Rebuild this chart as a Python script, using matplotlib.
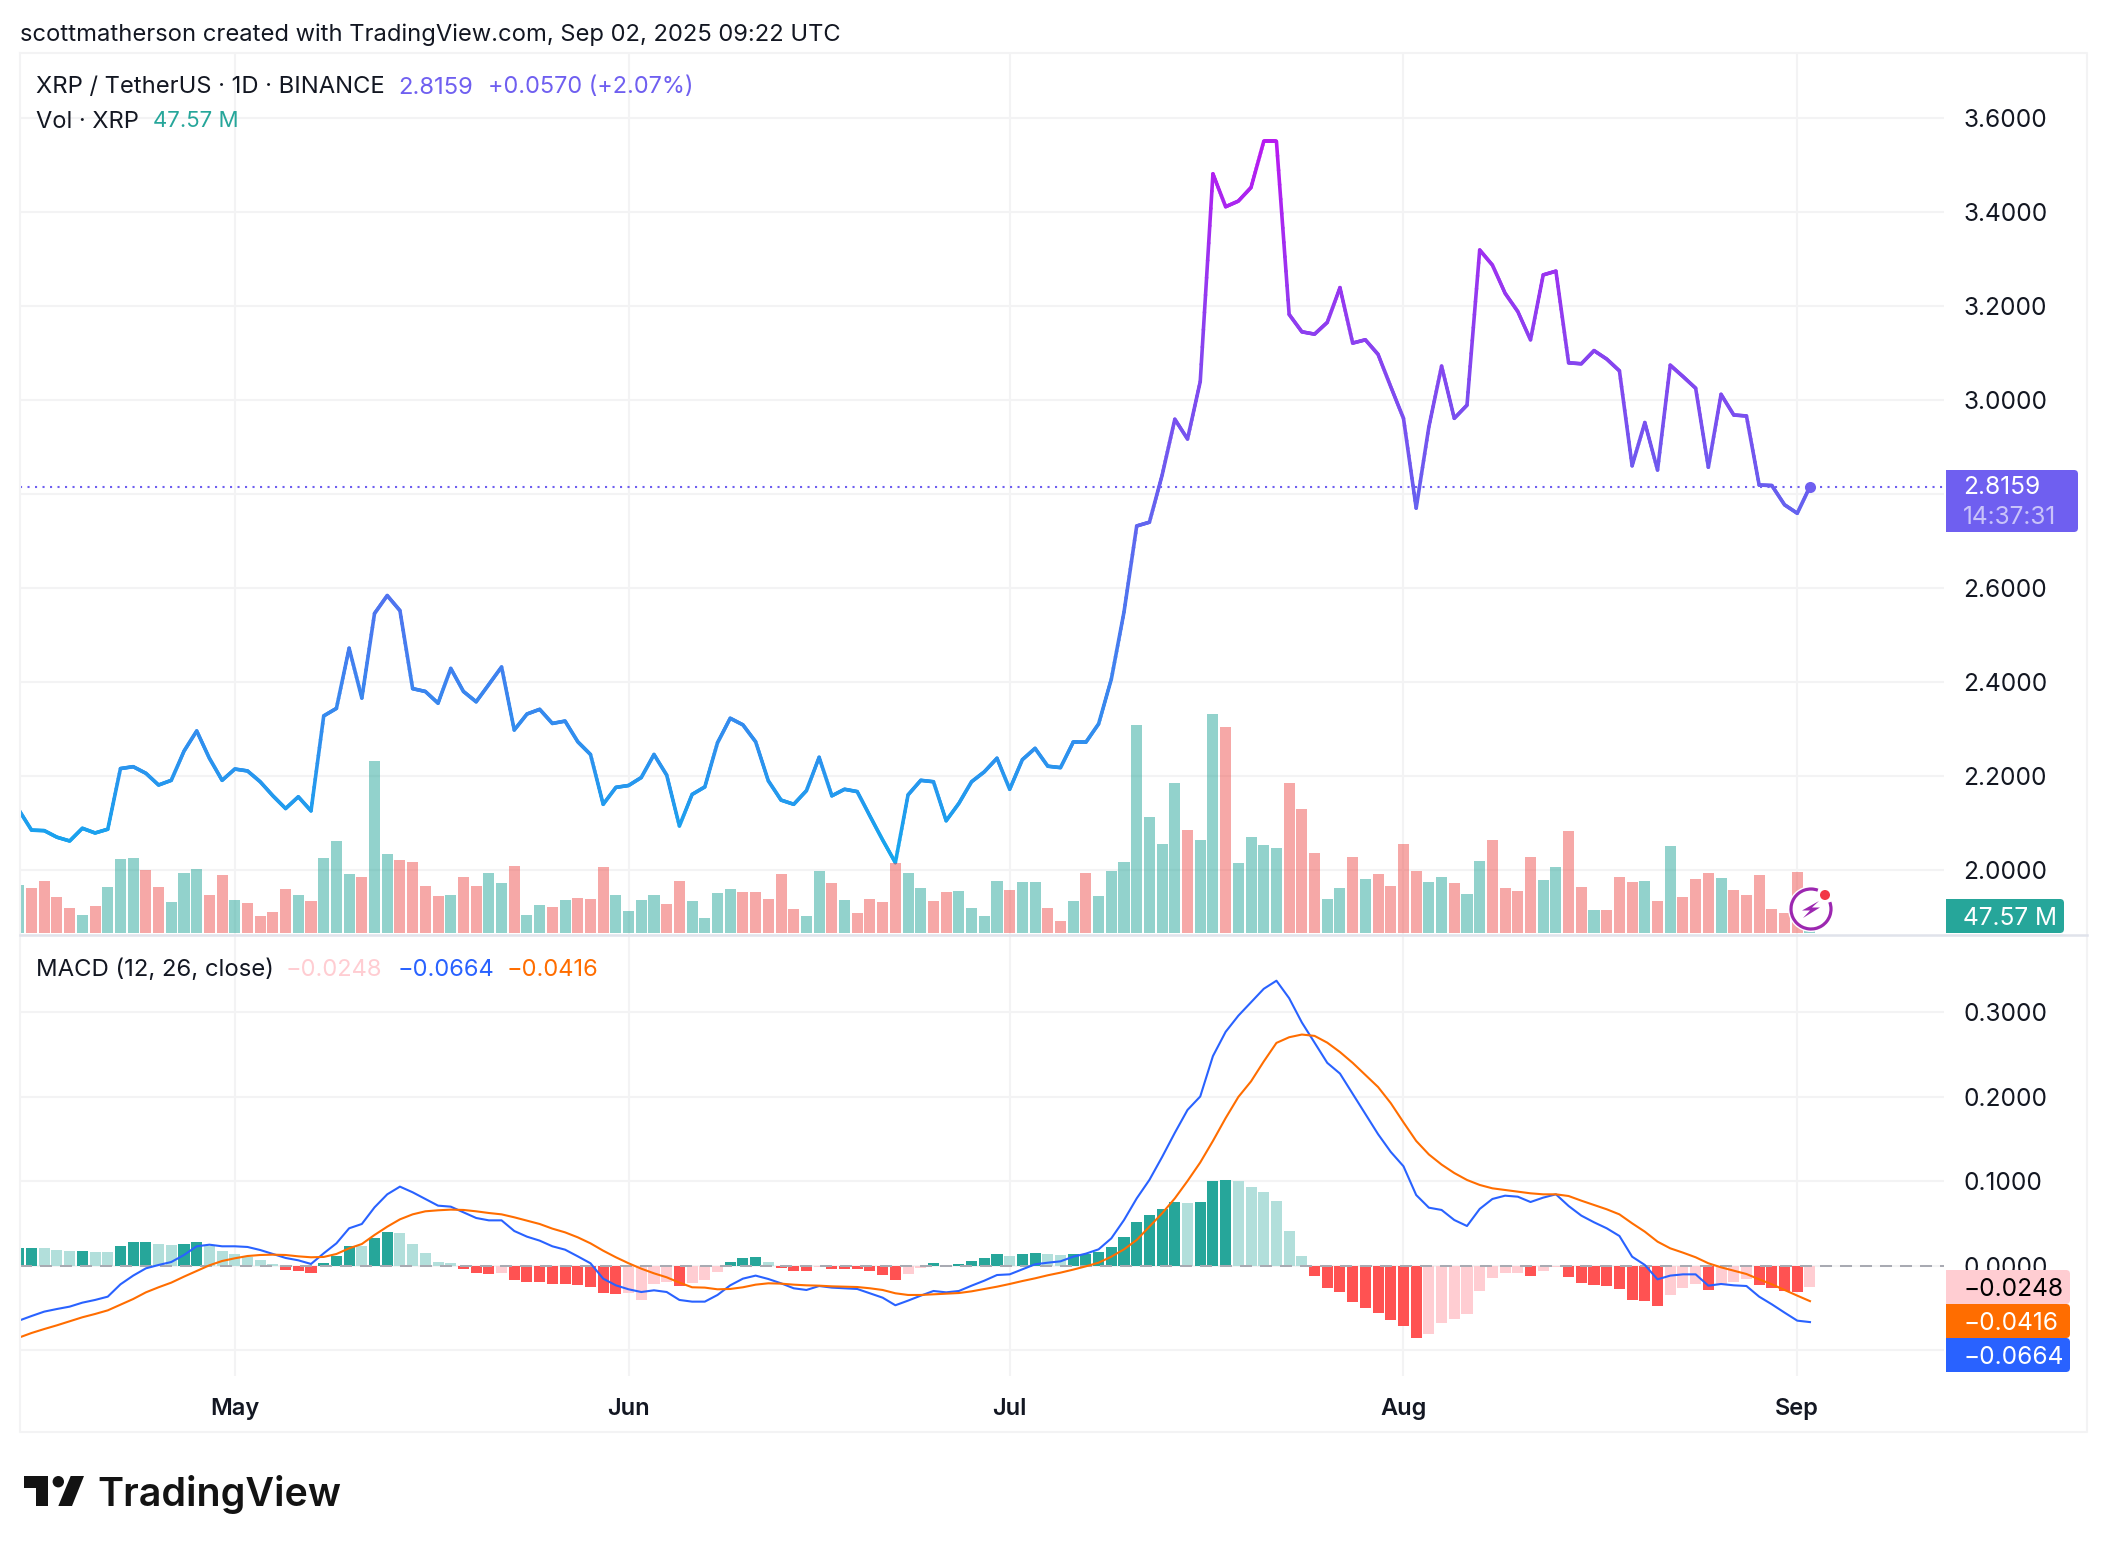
import matplotlib
matplotlib.use('Agg')
import matplotlib.pyplot as plt
from matplotlib.collections import LineCollection
from matplotlib.colors import LinearSegmentedColormap
from matplotlib.patches import Circle, Arc, Polygon, Rectangle, FancyBboxPatch
import numpy as np

plt.rcParams['font.family'] = ['Inter', 'DejaVu Sans']

# days counted from May 1 2025, first bar is Apr 14, last is Sep 2
days = np.arange(-17, 125)
month_days = [0, 31, 61, 92, 123]
month_names = ['May', 'Jun', 'Jul', 'Aug', 'Sep']

close = [2.128, 2.085, 2.084, 2.070, 2.062, 2.089, 2.079, 2.087, 2.216, 2.220, 2.206, 2.181, 2.191, 2.253, 2.296, 2.238, 2.191,
         2.215, 2.211, 2.188, 2.158, 2.131, 2.156, 2.126, 2.328, 2.344, 2.472, 2.366, 2.546, 2.584, 2.552, 2.386, 2.380,
         2.355, 2.429, 2.380, 2.358, 2.395, 2.432, 2.298, 2.332, 2.342, 2.312, 2.317, 2.273, 2.246, 2.140, 2.176, 2.180,
         2.197, 2.246, 2.202, 2.094, 2.161, 2.177, 2.271, 2.323, 2.309, 2.273, 2.190, 2.149, 2.140, 2.169, 2.240, 2.158,
         2.172, 2.167, 2.115, 2.064, 2.016, 2.160, 2.191, 2.188, 2.105, 2.142, 2.188, 2.209, 2.238, 2.172, 2.235, 2.259,
         2.221, 2.218, 2.272, 2.272, 2.311, 2.406, 2.549, 2.732, 2.740, 2.840, 2.959, 2.917, 3.039, 3.481, 3.411, 3.423,
         3.452, 3.550, 3.550, 3.182, 3.145, 3.140, 3.165, 3.239, 3.121, 3.128, 3.097, 3.028, 2.961, 2.770, 2.943, 3.072,
         2.961, 2.989, 3.319, 3.287, 3.227, 3.188, 3.128, 3.266, 3.274, 3.079, 3.077, 3.105, 3.087, 3.062, 2.860, 2.952,
         2.851, 3.074, 3.050, 3.025, 2.857, 3.012, 2.968, 2.966, 2.819, 2.818, 2.777, 2.759, 2.8159]

# volume in millions
volume = [159, 149, 172, 119, 82, 59, 89, 152, 246, 249, 209, 152, 102, 199, 212, 126, 192,
          109, 99, 56, 69, 146, 126, 106, 249, 306, 196, 186, 572, 262, 242, 236, 156, 122, 126, 186, 156, 199, 166, 222,
          59, 92, 86, 109, 116, 112, 219, 126, 72, 109, 126, 96, 172, 106,
          49, 132, 146, 136, 136, 112, 196, 79, 56, 206, 166, 109, 66, 112, 102, 232, 199, 149, 106, 136, 139, 82, 56,
          172, 142, 169, 169, 82, 39, 106, 199, 122, 206, 236, 692, 386, 296, 499, 342, 309, 729, 686, 232, 319, 292, 282,
          499, 412, 266, 112, 149, 252, 179, 196, 156,
          296, 206, 169, 186, 166, 129, 239, 309, 149, 139, 252, 176, 219, 339, 152, 76, 76, 186, 169, 172, 106, 289, 119,
          179, 199, 182, 142, 126, 192, 79, 66, 202, 47.57]
vol_up = [1, 0, 0, 0, 0, 1, 0, 1, 1, 1, 0, 0, 1, 1, 1, 0, 0,
          1, 0, 0, 0, 0, 1, 0, 1, 1, 1, 0, 1, 1, 0, 0, 0, 0, 1, 0, 0, 1, 1, 0, 1, 1, 0, 1, 0, 0, 0, 1, 1, 1, 1, 0, 0, 1,
          1, 1, 1, 0, 0, 0, 0, 0, 1, 1, 0, 1, 0, 0, 0, 0, 1, 1, 0, 0, 1, 1, 1, 1, 0, 1, 1, 0, 0, 1, 0, 1, 1, 1, 1, 1, 1, 1,
          0, 1, 1, 0, 1, 1, 1, 1, 0, 0, 0, 1, 1, 0, 1, 0, 0, 0, 0, 1, 1, 0, 1, 1, 0, 0, 0, 0, 1, 1, 0, 0, 1, 0, 0, 0, 1, 0,
          1, 0, 0, 0, 1, 0, 0, 0, 0, 0, 0, 1]

hist = [.0217, .0217, .0217, .0189, .0178, .0178, .0166, .0166, .0237, .0284, .0284, .026, .0249, .026, .0284, .0237, .0178,
        .0142, .0107, .0071, .0024, -.0047, -.0059, -.0083, .0036, .0118, .0237, .0237, .0331, .0402, .0391, .026, .0154,
        .0047, .0036, -.0036, -.0083, -.0095, -.0083, -.0166, -.0189, -.0189, -.0213, -.0213, -.0225, -.0249, -.032, -.0331,
        -.032, -.0402, -.0213, -.0189, -.0237, -.0201,
        -.0166, -.0071, .0047, .0095, .0107, .0047, -.0024, -.0059, -.0059, -.0012, -.0036, -.0036, -.0036, -.0059, -.0107,
        -.0166, -.0095, -.0024, .0036, .0012, .0024, .0059, .0095, .0142, .0118, .0142, .0154, .0142, .013, .0142, .0142,
        .0166, .0225, .0343, .0521, .0604, .0675, .0757, .0746, .0757, .1006, .1018, .1006, .0935, .0876, .0769, .0414, .0118,
        -.0118, -.026, -.0308, -.0426, -.0497, -.0556, -.0639,
        -.071, -.0852, -.0805, -.0675, -.0627, -.0568, -.0296, -.0142, -.0083, -.0083, -.0118, -.0059, -.0012, -.013, -.0201,
        -.0225, -.0237, -.0272, -.0402, -.0414, -.0473, -.0343, -.026, -.0213, -.0284, -.0213, -.0189, -.0154, -.0225, -.026,
        -.0296, -.0308, -.0248]
hist_strong = [1, 1, 0, 0, 0, 1, 0, 0, 1, 1, 1, 0, 0, 1, 1, 0, 0,
               0, 0, 0, 0, 1, 1, 1, 1, 1, 1, 0, 1, 1, 0, 0, 0, 0, 0, 1, 1, 1, 0, 1, 1, 1, 1, 1, 1, 1, 1, 1, 0, 0, 0, 0, 1, 0,
               0, 0, 1, 1, 1, 0, 1, 1, 1, 0, 1, 1, 1, 1, 1, 1, 0, 0, 1, 0, 1, 1, 1, 1, 0, 1, 1, 0, 0, 1, 1, 1, 1, 1, 1, 1, 1, 1,
               0, 1, 1, 1, 0, 0, 0, 0, 0, 0, 1, 1, 1, 1, 1, 1, 1, 1, 1, 0, 0, 0, 0, 0, 0, 0, 0, 1, 0, 0, 1, 1, 1, 1, 1, 1, 1, 1,
               0, 0, 0, 1, 0, 0, 0, 1, 1, 1, 1, 0]

macd = [-.0647, -.0592, -.054, -.0509, -.0481, -.0434, -.0402, -.0363, -.0217, -.0114, -.0028, .0012, .0047, .013, .0233, .0252, .0233,
        .0233, .0225, .0189, .0142, .0095, .0067, .0024, .015, .0268, .0446, .0497, .0694, .0848, .0939, .0872, .0793,
        .0714, .0702, .0635, .0568, .054, .054, .0414, .0347, .03, .0233, .0193, .0114, .0032, -.015, -.0229, -.0276,
        -.0308, -.0288, -.0308, -.0402, -.0422,
        -.0422, -.0343, -.0229, -.015, -.0114, -.0154, -.0205, -.0264, -.0284, -.0237, -.0256, -.0264, -.0272, -.0323, -.0375,
        -.0465, -.041, -.0351, -.0296, -.0312, -.0296, -.0233, -.0174, -.0107, -.0099, -.0039, .002, .0039, .0055, .011,
        .0146, .0197, .0327, .0544, .08, .1019, .129, .1576, .1847, .2006, .2484, .2771, .2962, .3121, .328, .3376, .3169,
        .2882, .2643, .2404, .2277, .2038, .1799, .156, .135,
        .118, .084, .069, .0663, .0544, .0473, .0675, .0793, .0832, .082, .0757, .0809, .0848, .071, .0596, .0517, .0446,
        .0355, .011, .0012, -.0158, -.0114, -.0099, -.0099, -.0233, -.0213, -.0229, -.0237, -.0363, -.0454, -.0552, -.0647, -.0664]

signal = [-.0848, -.0793, -.0746, -.0702, -.0655, -.0607, -.0568, -.0525, -.0458, -.0391, -.0312, -.0252, -.0197, -.0126, -.0059, .0008, .0059,
          .0091, .0118, .013, .0134, .013, .0114, .0103, .0107, .0142, .0209, .026, .0367, .0465, .0552, .0611, .0647,
          .0659, .0667, .0663, .0647, .0627, .0611, .0576, .0536, .0497, .0442, .0398, .0339, .0268, .0181, .0103, .0032,
          -.0032, -.0087, -.0134, -.0197, -.0252,
          -.0256, -.0276, -.0272, -.0252, -.0221, -.0205, -.0209, -.0221, -.0229, -.0233, -.0241, -.0245, -.0249, -.0264, -.0284,
          -.0323, -.0343, -.0343, -.0335, -.0327, -.032, -.03, -.0272, -.0245, -.0213, -.0178, -.0146, -.011, -.0079, -.0043,
          -.0004, .0039, .011, .0197, .0308, .0465, .0623, .08, .1006, .1225, .148, .175, .2, .2185, .242, .264, .2707,
          .2739, .2723, .2643, .2532, .2404, .2261, .2118, .1927,
          .17, .148, .132, .12, .11, .1018, .0959, .0919, .0899, .088, .086, .0848, .0848, .0828, .0773, .0722, .0671, .0611,
          .0505, .0406, .0288, .0209, .0158, .0103, .0032, -.0016, -.0055, -.0095, -.0158, -.0217, -.0284, -.0351, -.0416]

price_ticks = [2.0, 2.2, 2.4, 2.6, 2.8, 3.0, 3.2, 3.4, 3.6]
# 2.8000 sits behind the last price tag in the reference
price_labels = ['2.0000', '2.2000', '2.4000', '2.6000', '', '3.0000', '3.2000', '3.4000', '3.6000']
macd_ticks = [-0.1, 0.0, 0.1, 0.2, 0.3]
macd_labels = ['', '0.0000', '0.1000', '0.2000', '0.3000']

W, H = 2108, 1552
TEAL = '#26a69a'
RED = '#ef5350'
PURPLE = '#6f5ff0'
GRID = '#f3f3f4'
INK = '#131722'
TICK_SIZE = 17.6


def pane(left, top, right, bottom):
    return fig.add_axes([left / W, 1 - bottom / H, (right - left) / W, (bottom - top) / H])


fig = plt.figure(figsize=(W / 100, H / 100), dpi=100, facecolor='white')

day_left = (20 - 234.8) / 12.703
day_right = (1944 - 234.8) / 12.703

# price pane
ax = pane(20, 53, 1944, 935)
ax.set_xlim(day_left, day_right)
ax.set_ylim(1.862, 3.738)
ax.set_xticks(month_days)
ax.set_yticks(price_ticks)
ax.set_yticklabels(price_labels)
ax.tick_params(axis='x', length=0, labelbottom=False)
ax.grid(True, color=GRID, lw=1.5)
ax.set_axisbelow(True)
for s in ax.spines.values():
    s.set_visible(False)

# the stroke changes colour with height, so each day's segment is cut up for colouring only
cmap = LinearSegmentedColormap.from_list('price', ['#13a8ee', '#b81af0'])
xs, ys = [], []
for i in range(len(days) - 1):
    xs.extend(np.linspace(days[i], days[i + 1], 12, endpoint=False))
    ys.extend(np.linspace(close[i], close[i + 1], 12, endpoint=False))
xs.append(days[-1])
ys.append(close[-1])
pts = np.column_stack([xs, ys]).reshape(-1, 1, 2)
segs = np.concatenate([pts[:-1], pts[1:]], axis=1)
lc = LineCollection(segs, cmap=cmap, lw=2.6, capstyle='round', joinstyle='round')
lc.set_array((np.array(ys[:-1]) - 2.0) / 1.55)
lc.set_clim(0, 1)
ax.add_collection(lc)
ax.axhline(close[-1], color=PURPLE, lw=1.5, linestyle=(0, (1, 2.6)))
ax.plot(days[-1], close[-1], 'o', color=PURPLE, ms=8, mew=0, zorder=5)

# volume bars share the pane, about 0.3 px per million
axv = ax.twinx()
axv.set_zorder(ax.get_zorder() + 1)
axv.patch.set_visible(False)
axv.set_ylim(-7.7, 2932)
axv.set_yticks([])
axv.bar(days, volume, width=0.87, alpha=0.5, color=[TEAL if u else RED for u in vol_up])
for s in axv.spines.values():
    s.set_visible(False)

# twinx moves the price ticks to the left, put them back
ax.yaxis.tick_right()
ax.tick_params(axis='y', length=0, pad=14, labelsize=TICK_SIZE, labelcolor=INK)

# macd pane
ax2 = pane(20, 935, 1944, 1376)
ax2.set_xlim(day_left, day_right)
ax2.set_ylim(-0.1302, 0.3917)
ax2.set_xticks(month_days)
ax2.set_xticklabels(month_names, fontweight='semibold')
ax2.set_yticks(macd_ticks)
ax2.set_yticklabels(macd_labels)
ax2.yaxis.tick_right()
ax2.tick_params(axis='y', length=0, pad=14, labelsize=TICK_SIZE, labelcolor=INK)
ax2.tick_params(axis='x', length=0, pad=16, labelsize=17, labelcolor=INK)
ax2.grid(True, color=GRID, lw=1.5)
ax2.set_axisbelow(True)
for s in ax2.spines.values():
    s.set_visible(False)

hist_colors = []
for h, strong in zip(hist, hist_strong):
    if h >= 0:
        hist_colors.append(TEAL if strong else '#b2dfdb')
    else:
        hist_colors.append('#ff5252' if strong else '#ffcdd2')
ax2.bar(days, hist, width=0.87, color=hist_colors, zorder=2)
ax2.axhline(0, color='#a8aab2', lw=1.44, linestyle=(0, (6, 4)), zorder=3)
ax2.plot(days, macd, color='#2962ff', lw=1.5, zorder=4)
ax2.plot(days, signal, color='#ff6d00', lw=1.5, zorder=5)

# frame, tags, legend text and logo, placed in image pixels
deco = fig.add_axes([0, 0, 1, 1], zorder=10)
deco.set_xlim(0, W)
deco.set_ylim(H, 0)
deco.axis('off')

deco.plot([20, 2087, 2087, 20, 20], [53, 53, 1432, 1432, 53], color=GRID, lw=1.5)
deco.plot([20, 2087], [935, 935], color='#e0e3eb', lw=1.8)


def tag(top, bottom, right, color, label, text_color='white'):
    deco.add_patch(FancyBboxPatch((1946, top), right - 1946, bottom - top, boxstyle='round,pad=0,rounding_size=4',
                                  fc=color, ec='none'))
    deco.add_patch(Rectangle((1946, top), 10, bottom - top, fc=color, ec='none'))
    if label:
        deco.text(1963, (top + bottom) / 2, label, color=text_color, fontsize=TICK_SIZE, va='center_baseline')


tag(470, 532, 2078, PURPLE, '')
deco.text(1963, 485, '2.8159', color='white', fontsize=TICK_SIZE, va='center_baseline')
deco.text(1963, 515, '14:37:31', color='#c9c3f9', fontsize=TICK_SIZE, va='center_baseline')
tag(899, 933, 2064, TEAL, '47.57 M')
tag(1270, 1304, 2070, '#ffcdd2', '\u22120.0248', 'black')
tag(1304, 1338, 2070, '#ff6d00', '\u22120.0416')
tag(1338, 1372, 2070, '#2962ff', '\u22120.0664')

deco.text(20, 32, 'scottmatherson created with TradingView.com, Sep 02, 2025 09:22 UTC', color=INK, fontsize=17.1, va='center_baseline')
deco.text(36, 85, 'XRP / TetherUS \u00b7 1D \u00b7 BINANCE', color=INK, fontsize=17.1, va='center_baseline')
deco.text(398, 85, '2.8159', color=PURPLE, fontsize=17.1, va='center_baseline')
deco.text(488, 85, '+0.0570 (+2.07%)', color=PURPLE, fontsize=16.9, va='center_baseline')
deco.text(36, 119, 'Vol \u00b7 XRP', color=INK, fontsize=17, va='center_baseline')
deco.text(153, 119, '47.57 M', color=TEAL, fontsize=16, va='center_baseline')
deco.text(36, 967, 'MACD (12, 26, close)', color=INK, fontsize=17.2, va='center_baseline')
deco.text(286, 967, '\u22120.0248', color='#ffcdd2', fontsize=17, va='center_baseline')
deco.text(398, 967, '\u22120.0664', color='#2962ff', fontsize=17, va='center_baseline')
deco.text(507, 967, '\u22120.0416', color='#ff6d00', fontsize=17, va='center_baseline')

# bolt badge on the last volume bar
deco.add_patch(Circle((1811, 909), 23, fc='white', ec='none'))
deco.add_patch(Arc((1811, 909), 40, 40, theta1=-20, theta2=290, ec='#9c27b0', lw=2.3))
deco.add_patch(Polygon([(1819, 901), (1802, 910.5), (1810, 910.5), (1803, 918), (1820, 907.5), (1812, 907.5)],
                       fc='#9c27b0', ec='none'))
deco.add_patch(Circle((1825, 895), 7, fc='white', ec='none'))
deco.add_patch(Circle((1825, 895), 5, fc='#f23645', ec='none'))

# logo
LOGO = '#131313'
deco.add_patch(Polygon([(24, 1476), (48.3, 1476), (48.3, 1506), (36, 1506), (36, 1488), (24, 1488)], fc=LOGO, ec='none'))
deco.add_patch(Circle((58.3, 1481.7), 5.7, fc=LOGO, ec='none'))
deco.add_patch(Polygon([(70.7, 1476), (84, 1476), (72, 1506), (58.3, 1506)], fc=LOGO, ec='none'))
deco.text(97, 1506, 'TradingView', color=LOGO, fontsize=28.4, fontweight='semibold', va='baseline')

plt.savefig('out.png', dpi=100)
